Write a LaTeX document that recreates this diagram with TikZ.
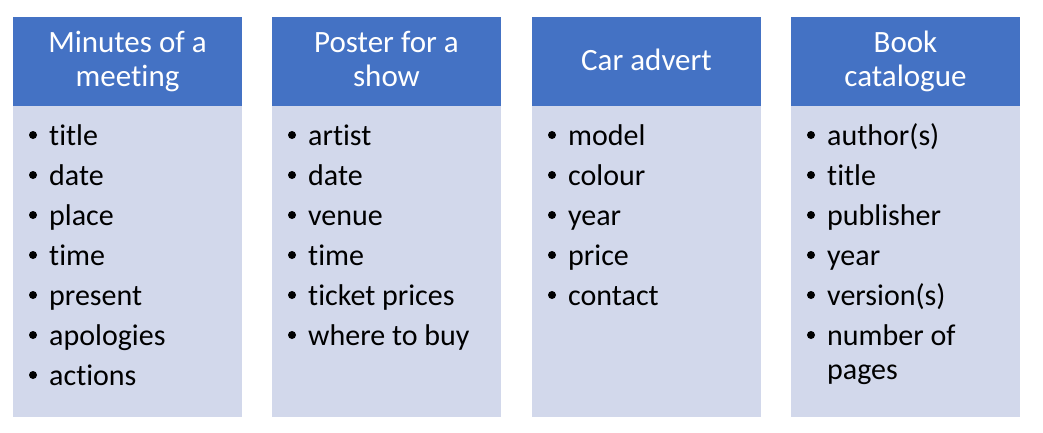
\documentclass[tikz,border=0pt]{standalone}
\usepackage{fontspec}
\setmainfont{Carlito}[Ligatures=NoCommon]
\definecolor{headblue}{HTML}{4472C4}
\definecolor{bodyfill}{HTML}{D2D8EB}
\tikzset{
  headbox/.style={fill=headblue, draw=none},
  bodybox/.style={fill=bodyfill, draw=none},
  headtext/.style={text=white, inner sep=0pt, anchor=base, font=\fontsize{31}{34}\selectfont},
  itemtext/.style={text=black, inner sep=0pt, anchor=base west, font=\fontsize{30}{40}\selectfont},
  bulletdot/.style={fill=black, draw=none},
}
\begin{document}
\begin{tikzpicture}[x=1pt,y=-1pt]
\useasboundingbox (0,0) rectangle (1043,433);
% boxes
\foreach \L/\n in {13/a,272/b,532/c,791/d}{
  \path[bodybox] (\L,106) rectangle ++(229,311);
  \path[headbox] (\L,17) rectangle ++(229,89);
}
% headers
\node[headtext] (ha1) at (127.5,53) {Minutes of a};
\node[headtext] (ha2) at (127.5,87) {meeting};
\node[headtext] (hb1) at (386.5,53) {Poster for a};
\node[headtext] (hb2) at (386.5,87) {show};
\node[headtext] (hc1) at (646.5,71) {Car advert};
\node[headtext] (hd1) at (905.5,53) {Book};
\node[headtext] (hd2) at (905.5,87) {catalogue};
% column 1
\foreach \t [count=\i from 0] in {title,date,place,time,present,apologies,actions}{
  \node[itemtext] (a\i) at (49,145+40*\i) {\t};
  \path[bulletdot] (33,135+40*\i) circle[radius=4pt];
}
% column 2
\foreach \t [count=\i from 0] in {artist,date,venue,time,ticket prices,where to buy}{
  \node[itemtext] (b\i) at (308,145+40*\i) {\t};
  \path[bulletdot] (292,135+40*\i) circle[radius=4pt];
}
% column 3
\foreach \t [count=\i from 0] in {model,colour,year,price,contact}{
  \node[itemtext] (c\i) at (568,145+40*\i) {\t};
  \path[bulletdot] (552,135+40*\i) circle[radius=4pt];
}
% column 4
\foreach \t [count=\i from 0] in {author(s),title,publisher,year,version(s),number of}{
  \node[itemtext] (d\i) at (827,145+40*\i) {\t};
  \path[bulletdot] (811,135+40*\i) circle[radius=4pt];
}
\node[itemtext] (d6) at (827,379) {pages};
\end{tikzpicture}
\end{document}
